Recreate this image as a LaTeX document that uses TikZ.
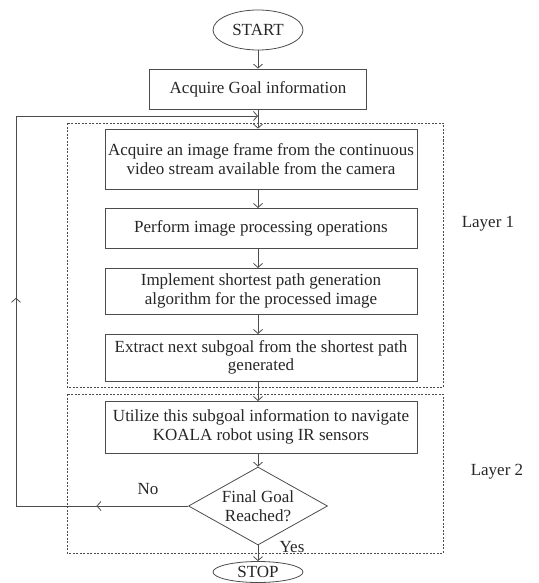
\documentclass[tikz,border=0pt]{standalone}
\usepackage{fontspec}
\setmainfont{Liberation Serif}
\usetikzlibrary{shapes.geometric,decorations.markings,arrows.meta}

\tikzset{
    >={Straight Barb[length=4pt, width=9pt]},
    line/.style={draw=black!70, line width=0.8pt},
    stepbox/.style={line, rectangle, align=center, inner sep=0pt, minimum width=312pt},
    endcap/.style={line, ellipse, inner sep=0pt, minimum width=90pt},
    decision/.style={line, diamond, align=center, inner sep=0pt, aspect=1.78,
        minimum width=139pt, minimum height=78pt},
    layer/.style={draw=black!70, line width=0.7pt, dash pattern=on 2pt off 1.5pt},
    midarrows/.style={postaction={decorate}, decoration={markings,
        mark=at position 0.114 with {\arrow{>}},
        mark=at position 0.473 with {\arrow{>}}}}
}

\begin{document}
\begin{tikzpicture}[x=1pt, y=-1pt, font=\fontsize{17}{18.5}\selectfont, text=black!85]
    \useasboundingbox (0,0) rectangle (538,583);

    % layers
    \draw[layer] (67,123) rectangle (443,387);
    \draw[layer] (67,394) rectangle (443,553);
    \node (lay1) at (488,224) {Layer 1};
    \node (lay2) at (497,472) {Layer 2};

    % steps
    \node[endcap, minimum height=40pt] (start) at (258,30) {START};
    \node[stepbox, minimum width=217pt, minimum height=40pt] (goal) at (258,89) {Acquire Goal information};
    \node[stepbox, minimum height=60pt] (frame) at (261,159) {Acquire an image frame from the continuous\\video stream available from the camera};
    \node[stepbox, minimum height=40pt] (process) at (261,228) {Perform image processing operations};
    \node[stepbox, minimum height=46pt] (path) at (261,291) {Implement shortest path generation\\algorithm for the processed image};
    \node[stepbox, minimum height=47pt] (subgoal) at (261,357.5) {Extract next subgoal from the shortest path\\generated};
    \node[stepbox, minimum height=52pt] (navigate) at (261,427) {Utilize this subgoal information to navigate\\KOALA robot using IR sensors};
    \node[decision] (check) at (258,506) {Final Goal\\Reached?};
    \node[endcap, minimum height=21pt] (stop) at (258,572) {STOP};

    \node (no) at (148,489) {No};
    \node (yes) at (292,547) {Yes};

    % flow
    \draw[line, ->] (start) -- (goal);
    \draw[line, ->] (goal.south) -- (goal.south |- frame.north);
    \draw[line, ->] (258,189) -- (258 ,208);
    \draw[line, ->] (258,248) -- (258,268);
    \draw[line, ->] (258,314) -- (258,334);
    \draw[line, ->] (258,381) -- (258,401);
    \draw[line, ->] (258,453) -- (check.north);
    \draw[line, ->] (check.south) -- (stop.north);

    % loop back
    \coordinate (loopbl) at (16,506);
    \coordinate (looptl) at (16,116);
    \coordinate (join) at (258,116);
    \draw[line, ->, midarrows] (check.west) -- (loopbl) -- (looptl) -- (join);
\end{tikzpicture}
\end{document}
